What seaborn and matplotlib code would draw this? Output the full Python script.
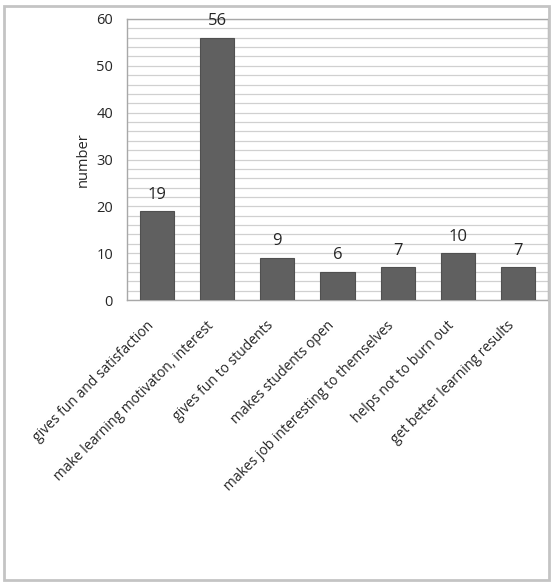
import matplotlib
matplotlib.use("Agg")
import matplotlib.pyplot as plt
import matplotlib.transforms as mtransforms
import seaborn as sns
import pandas as pd
from matplotlib.patches import Rectangle

categories = ["gives fun and satisfaction", "make learning motivaton, interest",
              "gives fun to students", "makes students open",
              "makes job interesting to themselves", "helps not to burn out",
              "get better learning results"]
values = [19, 56, 9, 6, 7, 10, 7]
yticks = [0, 10, 20, 30, 40, 50, 60]

sns.set_style("white")
plt.rcParams['font.family'] = ['Open Sans', 'DejaVu Sans']

df = pd.DataFrame({"cat": categories, "val": values})

fig = plt.figure(figsize=(5.53, 5.86), dpi=100)
fig.patches.append(Rectangle((4/553, 6/586), 545/553, 574/586, transform=fig.transFigure,
                             fill=False, edgecolor="#c4c4c4", linewidth=2))
ax = fig.add_axes([127/553, 286/586, 421/553, 281/586])
sns.barplot(data=df, x="cat", y="val", color="#606060", width=0.57,
            edgecolor="#505050", linewidth=0.8, saturation=1, ax=ax, zorder=3)
ax.set_ylim(0, 60)
ax.set_yticks(yticks)
ax.set_yticks(range(0, 61, 2), minor=True)
ax.grid(axis="y", which="both", color="#d0d0d0", linewidth=0.9, zorder=0)
ax.set_axisbelow(True)
for s in ax.spines.values():
    s.set_color("#a8a8a8")
    s.set_linewidth(1)
ax.tick_params(axis="y", which="both", length=0, labelsize=10.5, pad=10)
ax.tick_params(axis="x", length=0, labelsize=10, pad=13)
ax.set_xticks(range(len(categories)))
ax.set_xticklabels(categories, rotation=45, ha="right", rotation_mode="anchor")
offset = mtransforms.ScaledTranslation(-0.11, 0, fig.dpi_scale_trans)
for lbl in ax.get_xticklabels():
    lbl.set_transform(lbl.get_transform() + offset)
ax.set_xlabel("")
ax.set_ylabel("number", fontsize=10.5)
ax.yaxis.set_label_coords(-0.085, 0.5)
for i, v in enumerate(values):
    ax.text(i, v + 1.8, str(v), ha="center", va="bottom", fontsize=12)

fig.savefig("out.png", dpi=100)
